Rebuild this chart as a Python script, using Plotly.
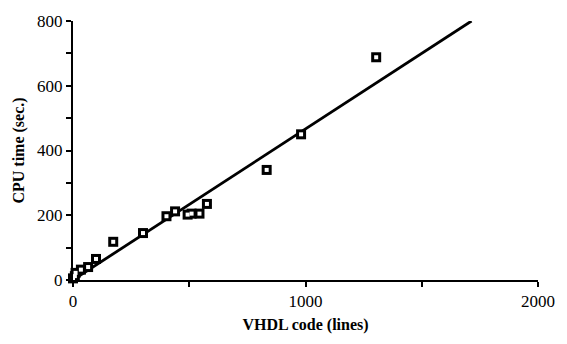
import plotly.graph_objects as go

vhdl_lines = [0, 8, 11, 34, 65, 99, 173, 301, 402, 439, 493, 510, 544, 576, 833, 981, 1304]
cpu_time = [5, 12, 22, 32, 40, 65, 118, 145, 197, 212, 202, 205, 205, 235, 340, 450, 688]

fit_x = [0, 1714]
fit_y = [0, 800]

y_tickvals = [0, 100, 200, 300, 400, 500, 600, 700, 800]
y_ticktext = ["0", "", "200", "", "400", "", "600", "", "800"]
x_tickvals = [0, 500, 1000, 1500, 2000]
x_ticktext = ["0", "", "1000", "", "2000"]

font_family = "Liberation Serif, Times New Roman, serif"

fig = go.Figure()
fig.add_trace(go.Scatter(x=fit_x, y=fit_y, mode="lines",
                         line=dict(color="black", width=2.8), showlegend=False,
                         cliponaxis=False))
fig.add_trace(go.Scatter(x=vhdl_lines, y=cpu_time, mode="markers",
                         marker=dict(symbol="square", size=10, color="black",
                                     line=dict(width=0)),
                         showlegend=False, cliponaxis=False))
fig.add_trace(go.Scatter(x=vhdl_lines, y=cpu_time, mode="markers",
                         marker=dict(symbol="square", size=4, color="white",
                                     line=dict(width=0)),
                         showlegend=False, cliponaxis=False))

fig.update_layout(
    width=567, height=344,
    margin=dict(l=73, r=19, t=14, b=64),
    paper_bgcolor="white", plot_bgcolor="white",
    font=dict(family=font_family, color="black", size=17),
)
fig.update_xaxes(range=[0, 2000], tickvals=x_tickvals, ticktext=x_ticktext,
                 showgrid=False, zeroline=False, showline=True, linecolor="black",
                 linewidth=2, ticks="outside", ticklen=5, tickwidth=2, tickcolor="black",
                 title=dict(text="<b>VHDL code (lines)</b>", font=dict(size=16, color="black"), standoff=8),
                 tickfont=dict(size=17, color="black"))
fig.update_yaxes(range=[0, 800], tickvals=y_tickvals, ticktext=y_ticktext,
                 showgrid=False, zeroline=False, showline=True, linecolor="black",
                 linewidth=2, ticks="outside", ticklen=5, tickwidth=2, tickcolor="black",
                 title=dict(text="<b>CPU time (sec.)</b>", font=dict(size=16, color="black"), standoff=8),
                 tickfont=dict(size=17, color="black"))

fig.write_html("out.html")
